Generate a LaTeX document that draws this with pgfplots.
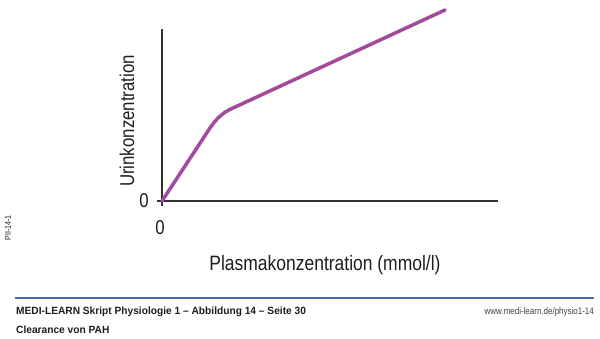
\documentclass[border=0pt]{standalone}
\usepackage{fontspec}
\setmainfont{Liberation Sans}[FakeStretch=0.84]
\newfontfamily\plainsans{Liberation Sans}[FakeStretch=0.97]
\usepackage{pgfplots}
\pgfplotsset{compat=1.18}
\definecolor{curvecol}{RGB}{162,74,156}
\definecolor{axisgray}{RGB}{51,51,51}
\definecolor{rulecol}{RGB}{74,108,168}
\definecolor{txt}{RGB}{30,30,30}
\begin{document}
\begin{tikzpicture}[x=1pt,y=1pt]
\path (0,0) rectangle (600,338);
\begin{axis}[
  at={(157pt,132pt)}, anchor=south west,
  scale only axis, width=341pt, height=177pt,
  xmin=-5, xmax=336, ymin=-5, ymax=172,
  axis lines=middle,
  axis line style={-, draw=axisgray, line width=1.3pt},
  xtick=\empty, ytick=\empty,
  clip=false,
  xlabel={Plasmakonzentration (mmol/l)},
  ylabel={Urinkonzentration},
  xlabel style={at={(axis cs:163,-64)}, anchor=center, font=\fontsize{20.8}{24}\selectfont, text=txt},
  ylabel style={at={(axis cs:-35,80)}, anchor=center, rotate=90, font=\fontsize{20}{24}\selectfont, text=txt},
]
\addplot[curvecol, line width=3.5pt, line join=round, line cap=round] coordinates {
  (0,0) (48,73) (52.6,79.2) (57.5,84.4) (62.6,88.5) (68,91.6) (283,191)
};
\node[font=\fontsize{20}{24}\selectfont, text=txt] at (axis cs:-18,0) {0};
\node[font=\fontsize{20}{24}\selectfont, text=txt] at (axis cs:-2,-27) {0};
\end{axis}
\node[rotate=90, font=\fontsize{8.5}{9}\selectfont, text=txt] at (8,110) {PII-14-1};
\draw[rulecol, line width=1.8pt] (15,40) -- (594,40);
\node[anchor=west, font=\plainsans\fontsize{10.5}{12}\selectfont\bfseries, text=txt, inner sep=0pt] at (16,26) {MEDI-LEARN Skript Physiologie 1 – Abbildung 14 – Seite 30};
\node[anchor=east, font=\fontsize{9.5}{11}\selectfont, text=txt!85, inner sep=0pt] at (594,26) {www.medi-learn.de/physio1-14};
\node[anchor=west, font=\plainsans\fontsize{10.5}{12}\selectfont\bfseries, text=txt, inner sep=0pt] at (16,8) {Clearance von PAH};
\end{tikzpicture}
\end{document}
